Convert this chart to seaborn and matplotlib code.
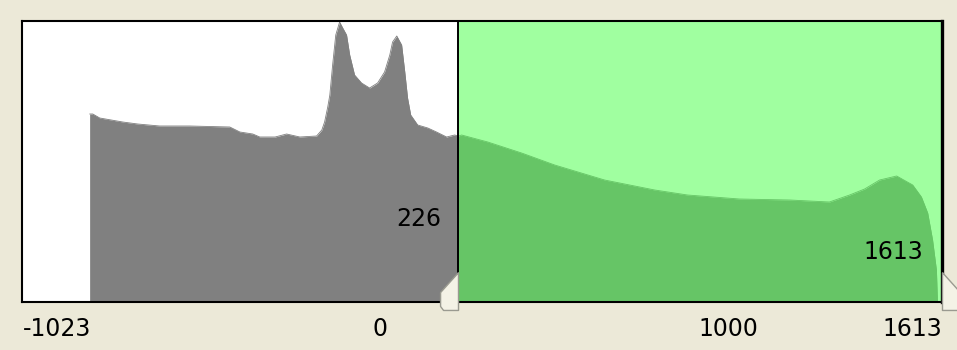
import matplotlib
matplotlib.use("Agg")
import matplotlib.pyplot as plt
from matplotlib.path import Path
import seaborn as sns

# Histogram outline (value -> count)
gray_values = [-832, -823, -803, -737, -694, -631, -545, -430, -401, -364, -344, -300,
               -267, -229, -181, -166, -158, -149, -143, -135, -126, -115, -106, -95,
               -86, -72, -52, -29, -6, 14, 29, 37, 49, 63, 72, 80, 89, 109, 138, 163,
               192, 215, 226]
gray_counts = [188, 188, 184, 180, 178, 176, 176, 175, 170, 168, 165, 165,
               168, 165, 166, 172, 180, 195, 207, 237, 267, 280, 274, 267,
               247, 227, 219, 214, 219, 230, 247, 260, 266, 257, 230, 204, 187, 177, 174, 170,
               165, 167, 166]

green_values = [226, 235, 310, 407, 502, 645, 789, 883, 1032, 1176, 1290, 1348, 1391,
                1434, 1483, 1529, 1554, 1572, 1586, 1597, 1600]
green_counts = [166, 167, 160, 149, 137, 122, 112, 107, 103, 102, 100, 107, 113,
                122, 126, 117, 105, 89, 62, 32, 0]

range_low = -1023
range_high = 1613
window_low = 226
window_high = 1613
tick_values = [-1023, 0, 1000, 1613]
tick_labels = ["-1023", "0", "1000", "1613"]

bg = "#ECE9D8"
sns.set_style("white")
plt.rcParams["font.family"] = ["DejaVu Sans"]
plt.rcParams["text.color"] = "black"
plt.rcParams["xtick.color"] = "black"

fig = plt.figure(figsize=(9.57, 3.5), dpi=100, facecolor=bg)
ax = fig.add_axes([22 / 957, 48 / 350, 920 / 957, 281 / 350])
ax.set_facecolor("white")

# selected window
ax.axvspan(window_low, window_high, color="#A0FFA0", lw=0, zorder=0)

sns.lineplot(x=gray_values, y=gray_counts, ax=ax, color="#808080", lw=0.6,
             estimator=None, sort=False, zorder=2)
ax.fill_between(gray_values, 0, gray_counts, color="#808080", lw=0, zorder=2)
sns.lineplot(x=green_values, y=green_counts, ax=ax, color="#66C566", lw=0.6,
             estimator=None, sort=False, zorder=2)
ax.fill_between(green_values, 0, green_counts, color="#66C566", lw=0, zorder=2)

ax.axvline(window_low, color="black", lw=1.4, zorder=3)

ax.set_xlim(range_low - 3, range_high)
ax.set_ylim(0, 281)
ax.set_yticks([])
ax.set_xticks(tick_values)
ax.set_xticklabels(tick_labels, fontsize=17, color="black")
labs = ax.get_xticklabels()
labs[0].set_ha("left")
labs[-1].set_ha("right")
ax.tick_params(axis="x", direction="out", length=7.5, width=1.3, color="black", pad=3)

for side in ["left", "top", "bottom"]:
    ax.spines[side].set_color("black")
    ax.spines[side].set_linewidth(1.5)
ax.spines["right"].set_color("black")
ax.spines["right"].set_linewidth(2.4)

# window value labels
ax.annotate(str(window_low), xy=(window_low, 83), xytext=(-17, 0), textcoords="offset pixels",
            ha="right", va="center", fontsize=17, color="black", zorder=4)
ax.annotate(str(window_high), xy=(window_high, 50), xytext=(-19, 0), textcoords="offset pixels",
            ha="right", va="center", fontsize=17, color="black", zorder=4)

# slider handles
left_handle = Path([(0, 30), (-18, 10), (-18, -4), (-15, -8), (0, -8), (0, 30)])
right_handle = Path([(0, 30), (18, 10), (18, -4), (15, -8), (0, -8), (0, 30)])
sns.scatterplot(x=[window_low], y=[0], ax=ax, marker=left_handle, s=1850,
                color="#F4F2E6", edgecolor="#9A9A90", linewidth=1, clip_on=False, zorder=5)
sns.scatterplot(x=[window_high], y=[0], ax=ax, marker=right_handle, s=1850,
                color="#F4F2E6", edgecolor="#9A9A90", linewidth=1, clip_on=False, zorder=5)

fig.savefig("out.png", dpi=100, facecolor=bg)
